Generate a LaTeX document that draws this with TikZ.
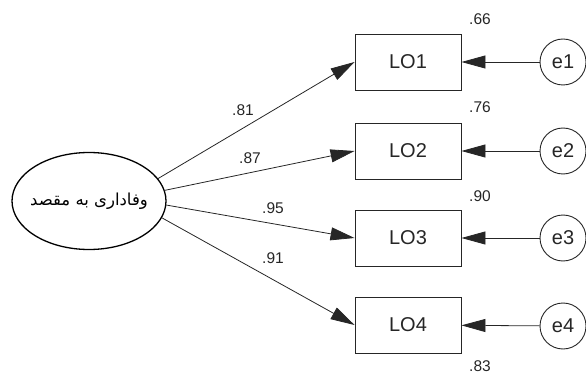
\documentclass[tikz,border=0pt]{standalone}
\usepackage{fontspec}
\setmainfont{Liberation Sans}
\newfontfamily\arabicfont[Script=Arabic]{DejaVu Sans}
\TeXXeTstate=1
\usetikzlibrary{shapes.geometric,arrows.meta}
\begin{document}
\begin{tikzpicture}[x=1pt,y=-1pt,
  obs/.style={draw=black!85, line width=0.9pt, minimum width=106pt, minimum height=56pt, inner sep=0pt, text=black!85, font=\fontsize{20}{20}\selectfont},
  err/.style={circle, draw=black!85, line width=0.9pt, minimum size=46pt, inner sep=0pt, text=black!85, font=\fontsize{20}{20}\selectfont},
  lat/.style={ellipse, draw=black, line width=1.3pt, minimum width=154pt, minimum height=97pt, inner sep=0pt},
  val/.style={font=\fontsize{15.5}{15.5}\selectfont, inner sep=0pt, text=black!85},
  path/.style={draw=black!85, line width=0.8pt, -{Triangle[length=24pt,width=13pt]}}
]
\useasboundingbox (0,0) rectangle (586,374);
\node[lat] (f) at (89,201) {\makebox[0pt]{\raisebox{-4pt}{\arabicfont\fontsize{16.5}{16.5}\selectfont\beginR وفاداری به مقصد\endR}}};
\node[obs] (lo1) at (408,62) {LO1};
\node[obs] (lo2) at (408,151) {LO2};
\node[obs] (lo3) at (408,238) {LO3};
\node[obs] (lo4) at (408,325) {LO4};
\node[err] (e1) at (563,62) {e1};
\node[err] (e2) at (563,151) {e2};
\node[err] (e3) at (563,238) {e3};
\node[err] (e4) at (563,326) {e4};
\draw[path] (f.18) -- (lo1.west);
\draw[path] (f.8) -- (lo2.west);
\draw[path] (f.-3) -- (lo3.west);
\draw[path] (f.-13) -- (lo4.west);
\draw[path] (e1) -- (lo1);
\draw[path] (e2) -- (lo2);
\draw[path] (e3) -- (lo3);
\draw[path] (e4) -- (lo4);
\node[val] (l81) at (243,110) {.81};
\node[val] (l87) at (250,158) {.87};
\node[val] (l95) at (273,208) {.95};
\node[val] (l91) at (273,258) {.91};
\node[val] (l66) at (480,19) {.66};
\node[val] (l76) at (480,107) {.76};
\node[val] (l90) at (480,196) {.90};
\node[val] (l83) at (480,366) {.83};
\end{tikzpicture}
\end{document}
